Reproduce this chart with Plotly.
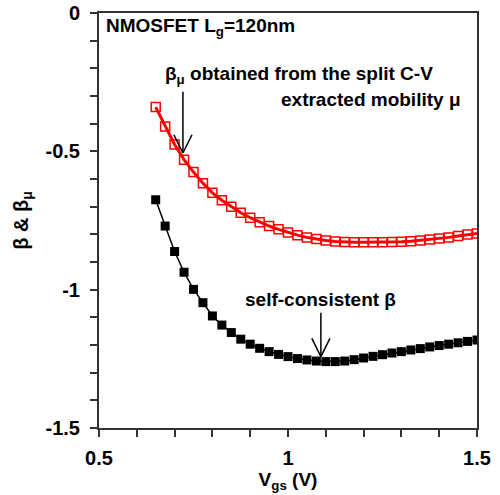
import plotly.graph_objects as go

# Gate voltage sweep (V)
vgs = [0.65, 0.675, 0.70, 0.725, 0.75, 0.775, 0.80, 0.825, 0.85, 0.875,
       0.90, 0.925, 0.95, 0.975, 1.00, 1.025, 1.05, 1.075, 1.10, 1.125,
       1.15, 1.175, 1.20, 1.225, 1.25, 1.275, 1.30, 1.325, 1.35, 1.375,
       1.40, 1.425, 1.45, 1.475, 1.50]

# beta_mu from split C-V extracted mobility
beta_mu = [-0.34, -0.41, -0.475, -0.53, -0.575, -0.615, -0.65, -0.677, -0.70, -0.722,
           -0.740, -0.756, -0.770, -0.782, -0.793, -0.803, -0.811, -0.817, -0.822, -0.826,
           -0.828, -0.829, -0.829, -0.829, -0.829, -0.828, -0.827, -0.825, -0.822, -0.819,
           -0.815, -0.811, -0.806, -0.801, -0.797]

# self-consistent beta
beta_sc = [-0.675, -0.77, -0.862, -0.937, -0.999, -1.047, -1.095, -1.128, -1.155, -1.179,
           -1.197, -1.212, -1.224, -1.234, -1.242, -1.249, -1.254, -1.258, -1.260, -1.260,
           -1.258, -1.253, -1.247, -1.241, -1.235, -1.229, -1.224, -1.218, -1.213, -1.207,
           -1.202, -1.197, -1.192, -1.187, -1.182]

# Arrow definitions: (x, y_tail, y_tip)
arrow_mu = (0.722, -0.285, -0.506)
arrow_sc = (1.087, -1.083, -1.242)

FONT = "Liberation Sans, Arial, sans-serif"

fig = go.Figure()

fig.add_trace(go.Scatter(
    x=vgs, y=beta_mu, mode="lines+markers",
    line=dict(color="#ff0000", width=3),
    marker=dict(symbol="square-open", size=9, color="#ff0000",
                line=dict(color="#ff0000", width=1.5)),
    showlegend=False,
))
fig.add_trace(go.Scatter(
    x=vgs, y=beta_sc, mode="lines+markers",
    line=dict(color="#000000", width=1.5),
    marker=dict(symbol="square", size=9, color="#000000"),
    showlegend=False,
))


def open_arrow(x, y0, y1, dx=0.024, dy=0.066):
    """Vertical arrow with an open V head pointing down to y1."""
    shapes = [dict(type="line", x0=x, x1=x, y0=y0, y1=y1)]
    shapes.append(dict(type="line", x0=x - dx, x1=x, y0=y1 + dy, y1=y1))
    shapes.append(dict(type="line", x0=x + dx, x1=x, y0=y1 + dy, y1=y1))
    for s in shapes:
        s.update(xref="x", yref="y", line=dict(color="#000000", width=1.5))
    return shapes


shapes = open_arrow(*arrow_mu) + open_arrow(*arrow_sc)

annotations = [
    dict(text="NMOSFET L<sub>g</sub>=120nm", x=0.513, y=-0.052,
         xanchor="left", yanchor="middle"),
    dict(text="β<sub>μ</sub> obtained from the split C-V", x=0.668, y=-0.224,
         xanchor="left", yanchor="middle"),
    dict(text="extracted mobility μ", x=1.462, y=-0.314,
         xanchor="right", yanchor="middle"),
    dict(text="self-consistent β", x=1.087, y=-1.035,
         xanchor="center", yanchor="middle"),
]
for a in annotations:
    a.update(xref="x", yref="y", showarrow=False,
             font=dict(family=FONT, size=19, color="#000000", weight="bold"))

axis_common = dict(
    showline=True, linecolor="#333333", linewidth=2, mirror=True,
    ticks="outside", ticklen=7, tickwidth=2, tickcolor="#333333",
    showgrid=False, zeroline=False, automargin=False,
    tickfont=dict(family=FONT, size=20, color="#000000", weight="bold"),
)

fig.update_layout(
    width=500, height=495,
    margin=dict(l=99, r=23, t=13, b=67),
    plot_bgcolor="white", paper_bgcolor="white",
    shapes=shapes, annotations=annotations,
    xaxis=dict(
        range=[0.5, 1.5], tickvals=[0.5, 1.0, 1.5], ticktext=["0.5", "1", "1.5"],
        minor=dict(dtick=0.1, tick0=0.5, ticks="outside", ticklen=7, tickwidth=2,
                   tickcolor="#333333"),
        ticklabelstandoff=4,
        title=dict(text="V<sub>gs</sub> (V)", standoff=4,
                   font=dict(family=FONT, size=19, color="#000000", weight="bold")),
        **axis_common,
    ),
    yaxis=dict(
        range=[-1.5, 0], tickvals=[-1.5, -1.0, -0.5, 0], ticktext=["-1.5", "-1", "-0.5", "0"],
        minor=dict(dtick=0.1, tick0=0, ticks="outside", ticklen=7, tickwidth=2,
                   tickcolor="#333333"),
        ticklabelstandoff=6,
        title=dict(text="β & β<sub>μ</sub>", standoff=12,
                   font=dict(family=FONT, size=20, color="#000000", weight="bold")),
        **axis_common,
    ),
)

fig.write_html("out.html")
